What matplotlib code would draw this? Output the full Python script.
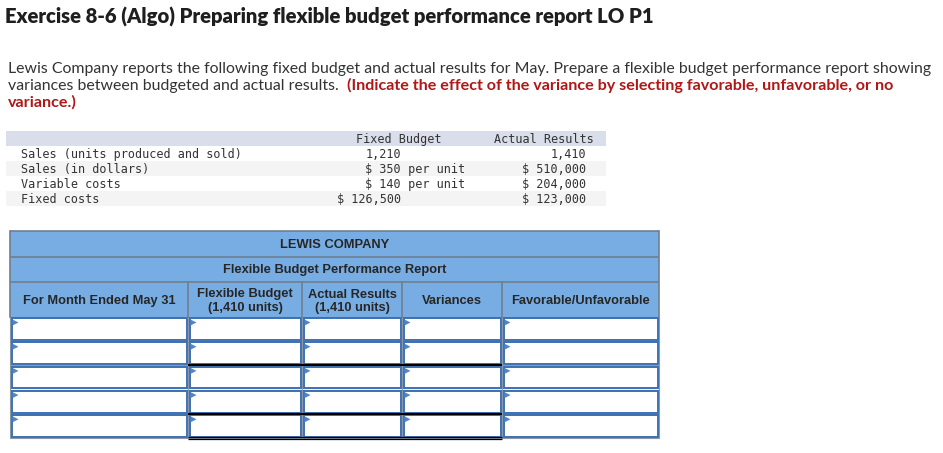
import matplotlib
matplotlib.use("Agg")
import matplotlib.pyplot as plt
from matplotlib.patches import Rectangle, Polygon

# ---------------- data ----------------
title = "Exercise 8-6 (Algo) Preparing flexible budget performance report LO P1"
para_line1 = ("Lewis Company reports the following fixed budget and actual results for May. "
              "Prepare a flexible budget performance report showing")
para_line2_normal = "variances between budgeted and actual results. "
para_line2_red = "(Indicate the effect of the variance by selecting favorable, unfavorable, or no"
para_line3_red = "variance.)"

data_header = ["Fixed Budget", "Actual Results"]
data_labels = ["Sales (units produced and sold)", "Sales (in dollars)",
               "Variable costs", "Fixed costs"]
fixed_budget = ["1,210", "$ 350", "$ 140", "$ 126,500"]
fixed_suffix = ["", " per unit", " per unit", ""]
actual_results = ["1,410", "$ 510,000", "$ 204,000", "$ 123,000"]

company = "LEWIS COMPANY"
report_title = "Flexible Budget Performance Report"
col_headers = ["For Month Ended May 31", "Flexible Budget\n(1,410 units)",
               "Actual Results\n(1,410 units)", "Variances", "Favorable/Unfavorable"]
n_input_rows = 5

# ---------------- layout ----------------
W, H = 943, 453
fig = plt.figure(figsize=(W / 100, H / 100), dpi=100)
ax = fig.add_axes([0, 0, 1, 1])
ax.set_xlim(0, W)
ax.set_ylim(H, 0)
ax.axis("off")
fig.patch.set_facecolor("white")
renderer = fig.canvas.get_renderer()


def fit(t, target):
    bb = t.get_window_extent(renderer)
    t.set_fontsize(t.get_fontsize() * target / bb.width)
    return t


def width(t):
    return t.get_window_extent(renderer).width


TXT = "#333333"
RED = "#b01717"

# title
t = ax.text(5, 23.5, title, fontsize=13, fontweight="heavy", family="Lato",
            color="#1e1e1e", va="baseline", ha="left")
fit(t, 650)

# paragraph
p1 = ax.text(8, 73, para_line1, fontsize=11, family="Lato", fontweight="normal",
             color=TXT, va="baseline", ha="left")
fit(p1, 919)
ps = p1.get_fontsize()
p2 = ax.text(8, 90, para_line2_normal, fontsize=ps, family="Lato", fontweight="normal",
             color=TXT, va="baseline", ha="left")
x_red = max(8 + width(p2), 347)
r2 = ax.text(x_red, 90, para_line2_red, fontsize=ps, family="Lato",
             fontweight="bold", color=RED, va="baseline", ha="left")
fit(r2, 897 - x_red)
ax.text(8, 107, para_line3_red, fontsize=r2.get_fontsize(), family="Lato",
        fontweight="bold", color=RED, va="baseline", ha="left")

# ---------------- given data table ----------------
band_x0, band_x1 = 6, 606
ax.add_patch(Rectangle((band_x0, 131), band_x1 - band_x0, 15, facecolor="#dadeea",
                       edgecolor="none"))
row_tops = [146, 161, 176, 191]
for i, top in enumerate(row_tops):
    fc = "white" if i % 2 == 0 else "#f4f4f4"
    ax.add_patch(Rectangle((band_x0, top), band_x1 - band_x0, 15, facecolor=fc,
                           edgecolor="none"))

MONO = dict(family="DejaVu Sans Mono", fontsize=8.45, color="#333333", va="baseline")
ax.text(356, 142.7, data_header[0], ha="left", **MONO)
ax.text(494, 142.7, data_header[1], ha="left", **MONO)
for i, lab in enumerate(data_labels):
    yb = 157.7 + 15 * i
    ax.text(21, yb, lab, ha="left", **MONO)
    ax.text(401, yb, fixed_budget[i], ha="right", **MONO)
    if fixed_suffix[i]:
        ax.text(401, yb, fixed_suffix[i], ha="left", **MONO)
    ax.text(586, yb, actual_results[i], ha="right", **MONO)

# ---------------- report table ----------------
col_x = [10, 188, 302, 402, 502, 659]
y_top = 231
y_r1 = 257
y_r2 = 282
y_hdr = 317
HDR_BLUE = "#78ade3"
GRID = "#6f7f92"
CELL_BLUE = "#3d70b2"
ARROW = "#4a87cf"

ax.add_patch(Rectangle((col_x[0], y_top), col_x[-1] - col_x[0], y_hdr - y_top,
                       facecolor=HDR_BLUE, edgecolor="none"))
for y in (y_top, y_r1, y_r2):
    ax.plot([col_x[0], col_x[-1]], [y, y], color=GRID, lw=1.2, solid_capstyle="butt")
for x in (col_x[0], col_x[-1]):
    ax.plot([x, x], [y_top, y_hdr], color=GRID, lw=1.2)
for x in col_x[1:-1]:
    ax.plot([x, x], [y_r2, y_hdr], color=GRID, lw=1.2)

HF = dict(family="Liberation Sans", fontweight="bold", fontsize=9.3, color="#262626",
          ha="center", va="baseline")
xmid = (col_x[0] + col_x[-1]) / 2
ax.text(xmid, 247.5, company, **HF)
ax.text(xmid, 273.5, report_title, **HF)
for j, h in enumerate(col_headers):
    cx = (col_x[j] + col_x[j + 1]) / 2
    lines = h.split("\n")
    if len(lines) == 1:
        ax.text(cx, 304, lines[0], **HF)
    else:
        ax.text(cx, 297.5, lines[0], **HF)
        ax.text(cx, 311.5, lines[1], **HF)

# input rows
y_bottom = 438
for r in range(n_input_rows):
    top = y_hdr + r * (y_bottom - y_hdr) / n_input_rows
    bot = y_hdr + (r + 1) * (y_bottom - y_hdr) / n_input_rows
    for j in range(len(col_x) - 1):
        x0, x1 = col_x[j], col_x[j + 1]
        ax.add_patch(Rectangle((x0, top), x1 - x0, bot - top, facecolor="white",
                               edgecolor="#8a98a8", lw=0.8))
        ax.add_patch(Rectangle((x0 + 1.5, top + 1.2), x1 - x0 - 3, bot - top - 2.4,
                               facecolor="white", edgecolor=CELL_BLUE, lw=1.4))
        ax.add_patch(Polygon([(x0 + 2.5, top + 2.5), (x0 + 8.5, top + 5.5),
                              (x0 + 2.5, top + 8.5)], closed=True,
                             facecolor=ARROW, edgecolor="none"))

for r in (2, 4):
    y = y_hdr + r * (y_bottom - y_hdr) / n_input_rows
    ax.plot([col_x[1], col_x[4]], [y, y], color="black", lw=1.5, solid_capstyle="butt")
ax.plot([col_x[1], col_x[4]], [436.6, 436.6], color="black", lw=0.9, solid_capstyle="butt")
ax.plot([col_x[1], col_x[4]], [439.2, 439.2], color="black", lw=0.9, solid_capstyle="butt")

fig.savefig("out.png", dpi=100, facecolor="white")
